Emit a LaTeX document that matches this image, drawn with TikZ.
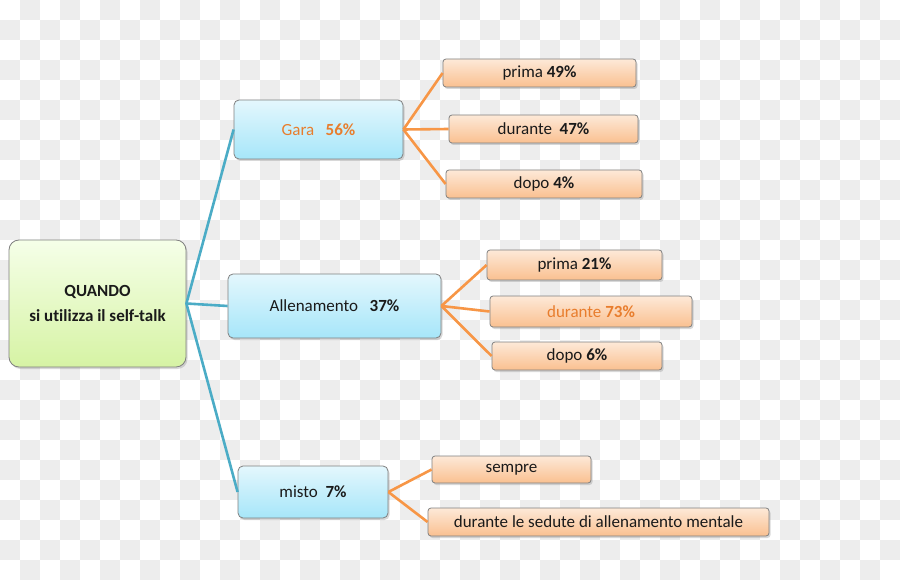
\documentclass[tikz,border=0pt]{standalone}
\usepackage{fontspec}
\setmainfont{Carlito}[Ligatures=NoCommon]
\usetikzlibrary{shadows}
\definecolor{chkgray}{RGB}{237,237,237}
\definecolor{boxline}{RGB}{128,128,128}
\definecolor{linkblue}{RGB}{75,172,198}
\definecolor{linkorange}{RGB}{247,150,70}
\definecolor{txtorange}{RGB}{232,125,45}
\definecolor{txtdark}{RGB}{26,26,26}
\tikzset{
  box/.style={draw=boxline, line width=.8pt, rounded corners=5pt, inner sep=0pt,
    text=txtdark, font=\fontsize{17}{21}\selectfont, align=center,
    drop shadow={shadow xshift=1.5pt, shadow yshift=-2pt, opacity=.3}},
  rootbox/.style={box, rounded corners=10pt, top color=green!4!white!95!yellow, bottom color={rgb,255:red,214;green,243;blue,164}},
  midbox/.style={box, top color={rgb,255:red,228;green,247;blue,253}, bottom color={rgb,255:red,166;green,230;blue,249}},
  leafbox/.style={box, rounded corners=3pt, top color={rgb,255:red,253;green,233;blue,216}, bottom color={rgb,255:red,250;green,192;blue,144}},
  bluelink/.style={draw=linkblue, line width=2.6pt},
  orangelink/.style={draw=linkorange, line width=2.6pt}
}
\begin{document}
\begin{tikzpicture}[x=1pt, y=-1pt]
  \useasboundingbox (0,0) rectangle (900,580);
  \fill[white] (0,0) rectangle (900,580);
  \foreach \i in {0,...,44}{
    \foreach \j in {0,...,28}{
      \pgfmathtruncatemacro{\chk}{mod(\i+\j,2)}
      \ifnum\chk=1 \fill[chkgray] (\i*20,\j*20) rectangle ++(20,20); \fi
    }
  }

  \node[rootbox, minimum width=177pt, minimum height=127pt] (quando) at (97.5,303.5)
    {\textbf{QUANDO}\\[4pt]\textbf{si utilizza il self-talk}};

  \node[midbox, minimum width=169pt, minimum height=59pt, text=txtorange] (gara) at (318.5,129.5) {Gara\ \ \ \textbf{56\%}};
  \node[midbox, minimum width=213pt, minimum height=64pt] (allen) at (334.5,306) {Allenamento\ \ \ \textbf{37\%}};
  \node[midbox, minimum width=150pt, minimum height=52pt] (misto) at (313,492) {misto\ \ \textbf{7\%}};

  \node[leafbox, minimum width=193pt, minimum height=28pt] (garaprima) at (539.5,73) {prima \textbf{49\%}};
  \node[leafbox, minimum width=189pt, minimum height=28pt] (garadurante) at (543.5,129) {durante\ \ \textbf{47\%}};
  \node[leafbox, minimum width=196pt, minimum height=28pt] (garadopo) at (544,184) {dopo \textbf{4\%}};

  \node[leafbox, minimum width=175pt, minimum height=30pt] (allenprima) at (574.5,265) {prima \textbf{21\%}};
  \node[leafbox, minimum width=202pt, minimum height=31pt, text=txtorange] (allendurante) at (591,311.5) {durante \textbf{73\%}};
  \node[leafbox, minimum width=170pt, minimum height=28pt] (allendopo) at (577,356) {dopo \textbf{6\%}};

  \node[leafbox, minimum width=159pt, minimum height=27pt] (sempre) at (511.5,469.5) {sempre};
  \node[leafbox, minimum width=341pt, minimum height=28pt] (sedute) at (598.5,522) {durante le sedute di allenamento\ mentale};

  \draw[bluelink] (gara.west) -- (quando.east) -- (misto.west);
  \draw[bluelink] (quando.east) -- (allen.west);

  \foreach \leaf in {garaprima, garadurante, garadopo}
    \draw[orangelink] (gara.east) -- (\leaf.west);
  \foreach \leaf in {allenprima, allendurante, allendopo}
    \draw[orangelink] (allen.east) -- (\leaf.west);
  \foreach \leaf in {sempre, sedute}
    \draw[orangelink] (misto.east) -- (\leaf.west);
\end{tikzpicture}
\end{document}
